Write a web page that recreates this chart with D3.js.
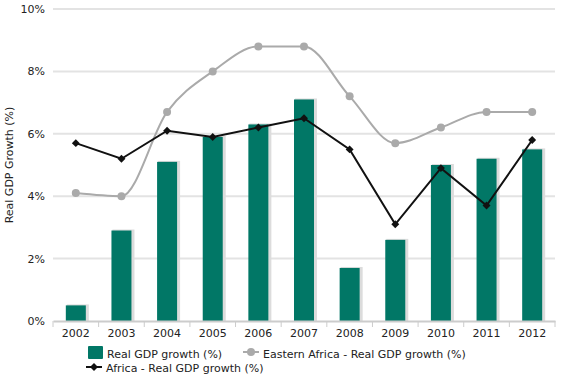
<!DOCTYPE html>
<html lang="en">
<head>
<meta charset="UTF-8">
<title>Real GDP growth</title>
<style>
  body { margin: 0; background: #fff; font-family: "DejaVu Sans", Verdana, sans-serif; }
  svg text { font-family: "DejaVu Sans", Verdana, sans-serif; font-size: 11px; fill: #222; }
  .grid line { stroke: #e3e3e3; stroke-width: 2; }
  .axis path, .axis line { stroke: #ccc; }
</style>
</head>
<body>
<svg id="chart" width="561" height="375"></svg>
<script src="https://d3js.org/d3.v7.min.js"></script>
<script>
const years = ["2002","2003","2004","2005","2006","2007","2008","2009","2010","2011","2012"];
const gdpGrowth = [0.5, 2.9, 5.1, 5.9, 6.3, 7.1, 1.7, 2.6, 5.0, 5.2, 5.5];
const eastAfrica = [4.1, 4.0, 6.7, 8.0, 8.8, 8.8, 7.2, 5.7, 6.2, 6.7, 6.7];
const africa = [5.7, 5.2, 6.1, 5.9, 6.2, 6.5, 5.5, 3.1, 4.9, 3.7, 5.8];
const yTicks = [0, 2, 4, 6, 8, 10];

const margin = { top: 9, right: 6, bottom: 54, left: 53 };
const width = 561, height = 375;
const svg = d3.select("#chart");

const x = d3.scaleBand().domain(years).range([margin.left, width - margin.right]).paddingInner(0).paddingOuter(0);
const y = d3.scaleLinear().domain([0, 10]).range([height - margin.bottom, margin.top]);

// grid
svg.append("g").attr("class", "grid")
  .selectAll("line").data(yTicks.slice(1)).join("line")
  .attr("x1", margin.left).attr("x2", width - margin.right)
  .attr("y1", d => y(d)).attr("y2", d => y(d));

// y labels
svg.append("g").selectAll("text").data(yTicks).join("text")
  .attr("x", 45).attr("y", d => y(d) + 4)
  .attr("text-anchor", "end")
  .text(d => d + "%");

svg.append("text")
  .attr("transform", `translate(13,${(y(0) + y(10)) / 2}) rotate(-90)`)
  .attr("text-anchor", "middle")
  .text("Real GDP Growth (%)");

// bars
const barW = 20;
const bars = svg.append("g");
bars.selectAll("rect.shadow").data(gdpGrowth).join("rect")
  .attr("class", "shadow")
  .attr("x", (d, i) => x(years[i]) + x.bandwidth() / 2 - barW / 2 + 1)
  .attr("y", d => y(d) - 1)
  .attr("width", barW + 2)
  .attr("height", d => y(0) - y(d) + 1)
  .attr("fill", "#dcdcdc");
bars.selectAll("rect.bar").data(gdpGrowth).join("rect")
  .attr("class", "bar")
  .attr("x", (d, i) => x(years[i]) + x.bandwidth() / 2 - barW / 2)
  .attr("y", d => y(d))
  .attr("width", barW)
  .attr("height", d => y(0) - y(d))
  .attr("fill", "#017766");

// x axis
const xAxis = svg.append("g").attr("class", "axis")
  .attr("transform", `translate(0,${y(0)})`)
  .call(d3.axisBottom(x).tickSize(0).tickPadding(8));
xAxis.select(".domain").attr("stroke", "#ccc").attr("stroke-width", 2);
xAxis.selectAll("text").style("font-size", "11px").attr("fill", "#222");
xAxis.selectAll("line.sep").data(years.concat(["end"])).join("line")
  .attr("class", "sep")
  .attr("x1", (d, i) => margin.left + i * x.bandwidth())
  .attr("x2", (d, i) => margin.left + i * x.bandwidth())
  .attr("y1", 0).attr("y2", 6)
  .attr("stroke", "#ccc");

const cx = i => x(years[i]) + x.bandwidth() / 2;

// Eastern Africa line
svg.append("path")
  .datum(eastAfrica)
  .attr("fill", "none").attr("stroke", "#aaa").attr("stroke-width", 2)
  .attr("d", d3.line().x((d, i) => cx(i)).y(d => y(d)).curve(d3.curveMonotoneX));
svg.append("g").selectAll("circle").data(eastAfrica).join("circle")
  .attr("cx", (d, i) => cx(i)).attr("cy", d => y(d)).attr("r", 4)
  .attr("fill", "#aaa");

// Africa line
svg.append("path")
  .datum(africa)
  .attr("fill", "none").attr("stroke", "#111").attr("stroke-width", 2)
  .attr("d", d3.line().x((d, i) => cx(i)).y(d => y(d)));
const diamond = d3.symbol().type(d3.symbolDiamond2).size(40);
svg.append("g").selectAll("path").data(africa).join("path")
  .attr("transform", (d, i) => `translate(${cx(i)},${y(d)})`)
  .attr("d", diamond).attr("fill", "#111");

// legend
const lg = svg.append("g");
lg.append("rect").attr("x", 88).attr("y", 346).attr("width", 15).attr("height", 13).attr("rx", 1).attr("fill", "#017766");
lg.append("text").attr("x", 107).attr("y", 358).text("Real GDP growth (%)");

lg.append("line").attr("x1", 243).attr("x2", 259).attr("y1", 352).attr("y2", 352).attr("stroke", "#aaa").attr("stroke-width", 2);
lg.append("circle").attr("cx", 251).attr("cy", 352).attr("r", 4).attr("fill", "#aaa");
lg.append("text").attr("x", 263).attr("y", 358).text("Eastern Africa - Real GDP growth (%)");

lg.append("line").attr("x1", 86).attr("x2", 102).attr("y1", 367).attr("y2", 367).attr("stroke", "#111").attr("stroke-width", 2);
lg.append("path").attr("transform", "translate(94,367)").attr("d", diamond).attr("fill", "#111");
lg.append("text").attr("x", 106).attr("y", 372).text("Africa - Real GDP growth (%)");
</script>
</body>
</html>
